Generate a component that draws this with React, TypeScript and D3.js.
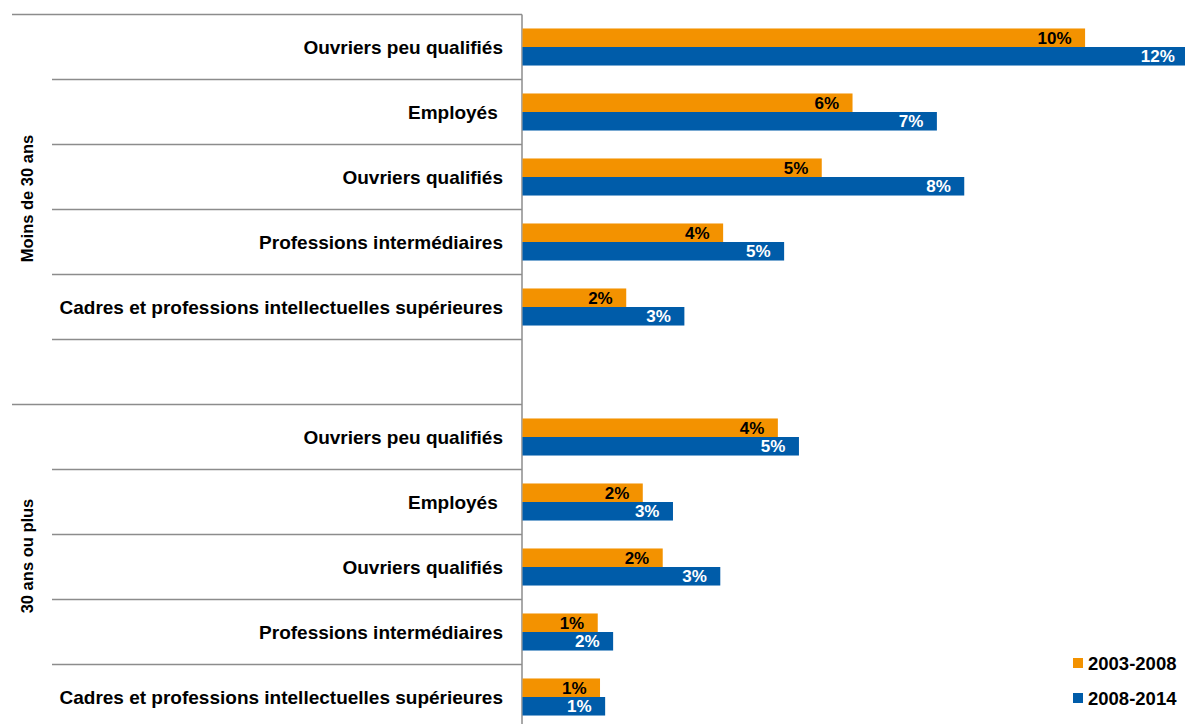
import { scaleBand, scaleLinear } from 'd3'

const groups = ['Moins de 30 ans', '30 ans ou plus']
const categories = [
  'Ouvriers peu qualifiés',
  'Employés ',
  'Ouvriers qualifiés',
  'Professions intermédiaires',
  'Cadres et professions intellectuelles supérieures',
]
const series = ['2003-2008', '2008-2014']
const colors = ['#F39200', '#005CA9']
const labelColors = ['#000000', '#FFFFFF']

// values in %, by group then series
const under30_2003_2008 = [9.87, 5.79, 5.25, 3.52, 1.82]
const under30_2008_2014 = [11.68, 7.27, 7.75, 4.59, 2.84]
const over30_2003_2008 = [4.48, 2.11, 2.46, 1.32, 1.36]
const over30_2008_2014 = [4.85, 2.64, 3.47, 1.59, 1.45]

const values = [
  [under30_2003_2008, under30_2008_2014],
  [over30_2003_2008, over30_2008_2014],
]

const W = 1185
const H = 724
const font = '"Liberation Sans", Arial, sans-serif'
const lineColor = '#8C8C8C'

interface Row {
  id: string
  group: number
  cat: number // -1 = blank spacer
}

const rows: Row[] = []
groups.forEach((_, g) => {
  categories.forEach((_, c) => rows.push({ id: `${g}-${c}`, group: g, cat: c }))
  if (g === 0) rows.push({ id: `${g}-blank`, group: g, cat: -1 })
})

export default function App() {
  const y = scaleBand<string>()
    .domain(rows.map(r => r.id))
    .range([14.5, 729.5])
  const bw = y.bandwidth()
  const sub = scaleBand<string>()
    .domain(series)
    .range([bw * 0.215, bw * 0.785])
  const x = scaleLinear().domain([0, 12]).range([522.5, 522.5 + 57 * 12])

  const boundaries = rows.map((r, i) => ({
    y: y(r.id) ?? 0,
    long: i === 0 || rows[i - 1].group !== r.group,
  }))
  boundaries.push({ y: y.range()[1], long: true })

  const groupSpan = groups.map((_, g) => {
    const ids = rows.filter(r => r.group === g)
    const top = y(ids[0].id) ?? 0
    const bottom = (y(ids[ids.length - 1].id) ?? 0) + bw
    return (top + bottom) / 2
  })

  return (
    <svg
      width={W}
      height={H}
      style={{ position: 'absolute', left: 0, top: 0, background: '#fff' }}
      fontFamily={font}
      fontWeight='bold'
    >
      {boundaries.map((b, i) => (
        <line
          key={i}
          x1={b.long ? 12 : 52}
          x2={522}
          y1={b.y}
          y2={b.y}
          stroke={lineColor}
          strokeWidth={1.5}
        />
      ))}
      <line x1={522} x2={522} y1={14.5} y2={729.5} stroke={lineColor} strokeWidth={1.5} />

      {groups.map((g, i) => (
        <text
          key={g}
          transform={`translate(33, ${groupSpan[i] - 11}) rotate(-90)`}
          textAnchor='middle'
          fontSize={16.5}
          fill='#000'
        >
          {g}
        </text>
      ))}

      {rows.filter(r => r.cat >= 0).map(r => {
        const y0 = y(r.id) ?? 0
        return (
          <g key={r.id}>
            <text
              x={503}
              y={y0 + bw / 2}
              dy='0.36em'
              textAnchor='end'
              fontSize={19}
              fill='#000'
              style={{ whiteSpace: 'pre' }}
            >
              {categories[r.cat]}
            </text>
            {series.map((s, si) => {
              const v = values[r.group][si][r.cat]
              const by = y0 + (sub(s) ?? 0)
              const bh = sub.bandwidth()
              return (
                <g key={s}>
                  <rect x={x(0)} y={by} width={x(v) - x(0)} height={bh} fill={colors[si]} />
                  <text
                    x={x(v) - 13.5}
                    y={by + bh / 2}
                    dy='0.36em'
                    textAnchor='end'
                    fontSize={17}
                    fill={labelColors[si]}
                  >
                    {`${Math.round(v)}%`}
                  </text>
                </g>
              )
            })}
          </g>
        )
      })}

      {series.map((s, i) => (
        <g key={s} transform={`translate(1073, ${658 + i * 35})`}>
          <rect width={10} height={10} fill={colors[i]} />
          <text x={15} y={12} fontSize={18.5} fill='#000'>
            {s}
          </text>
        </g>
      ))}
    </svg>
  )
}
